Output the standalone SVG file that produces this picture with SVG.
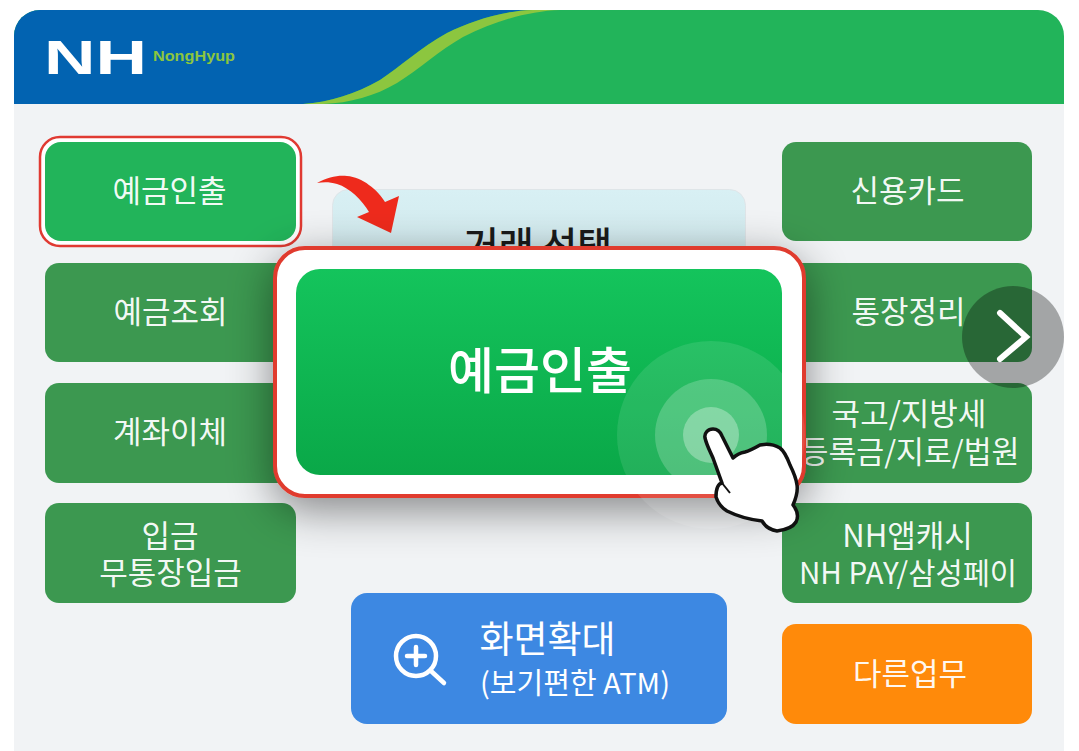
<svg xmlns="http://www.w3.org/2000/svg" width="1079" height="751" viewBox="0 0 1079 751">
<style>
.k{font-family:"Noto Sans CJK KR","Noto Sans",sans-serif;text-anchor:middle}
.b{fill:#3c9850}
.w{fill:#fff;fill-opacity:.96;font-size:31px}
</style>
<defs>
<clipPath id="panelClip"><path d="M14 36a26 26 0 0 1 26-26H1038a26 26 0 0 1 26 26V751H14Z"/></clipPath>
<linearGradient id="g1" x1="0" y1="0" x2="0" y2="1"><stop offset="0" stop-color="#14c45c"/><stop offset="1" stop-color="#0aa848"/></linearGradient>
<linearGradient id="g2" x1="0" y1="0" x2="0" y2="1"><stop offset="0" stop-color="#d8f0f4"/><stop offset="1" stop-color="#cfe6ea"/></linearGradient>
<filter id="sh" x="-25%" y="-25%" width="150%" height="160%"><feDropShadow dx="0" dy="12" stdDeviation="22" flood-color="#000" flood-opacity=".45"/></filter>
</defs>
<rect width="1079" height="751" fill="#fff"/>
<g id="panel" clip-path="url(#panelClip)">
<rect x="14" y="10" width="1050" height="741" fill="#f1f3f5"/>
<rect x="14" y="10" width="1050" height="94" fill="#22b45a"/>
<path d="M14 10H533C500 11 470 22 447 33C420 48 400 67 380 80C355 94 330 102 303 104H14Z" fill="#0263b1"/>
<path d="M303 104C330 102 355 94 380 80C400 67 420 48 447 33C470 22 500 11 533 10H560C530 11 497 20 463 37C440 50 418 70 397 83C375 96 350 103 323 104Z" fill="#8cc63f"/>
</g>
<g id="logo">
<text x="44" y="74" font-family="'Liberation Sans',sans-serif" font-weight="700" font-size="48" fill="#fff" textLength="103" lengthAdjust="spacingAndGlyphs">NH</text>
<text x="153" y="61" font-family="'Liberation Sans',sans-serif" font-weight="700" font-size="15.500" fill="#8cc63f" textLength="82" lengthAdjust="spacingAndGlyphs">NongHyup</text>
</g>
<g id="btn-withdraw">
<rect x="40" y="137" width="261" height="109" rx="20" fill="#fff" stroke="#e03a32" stroke-width="2.500"/>
<rect x="45" y="142" width="251" height="99" rx="16" fill="#22b45a"/>
<text class="k w" x="169.500" y="202">예금인출</text>
</g>
<g id="btn-inquiry"><rect class="b" x="45" y="263" width="251" height="99" rx="14"/><text class="k w" x="170.500" y="323">예금조회</text></g>
<g id="btn-transfer"><rect class="b" x="45" y="383" width="251" height="100" rx="14"/><text class="k w" x="170" y="443">계좌이체</text></g>
<g id="btn-deposit"><rect class="b" x="45" y="503" width="251" height="100" rx="14"/><text class="k w"><tspan x="170" y="547">입금</tspan><tspan x="170.500" y="584">무통장입금</tspan></text></g>
<g id="btn-card"><rect class="b" x="782" y="142" width="250" height="99" rx="14"/><text class="k w" x="907.500" y="202">신용카드</text></g>
<g id="btn-passbook"><rect class="b" x="782" y="263" width="250" height="99" rx="14"/><text class="k w" x="908.500" y="323">통장정리</text></g>
<g id="btn-tax"><rect class="b" x="782" y="383" width="250" height="100" rx="14"/><text class="k w"><tspan x="909" y="425">국고/지방세</tspan><tspan x="910" y="463" style="font-size:30.300px">등록금/지로/법원</tspan></text></g>
<g id="btn-pay"><rect class="b" x="782" y="503" width="250" height="100" rx="14"/><text class="k w"><tspan x="907.500" y="547">NH앱캐시</tspan><tspan x="908" y="584" style="font-size:29.600px">NH PAY/삼성페이</tspan></text></g>
<g id="btn-other"><rect x="782" y="624" width="250" height="100" rx="14" fill="#ff8a0a"/><text class="k w" x="910" y="685">다른업무</text></g>
<g id="btn-zoom"><rect x="351" y="593" width="376" height="131" rx="16" fill="#3d88e2"/>
<circle cx="416" cy="656" r="20" fill="none" stroke="#fff" stroke-width="4.500"/><path d="M416 647v18M407 656h18M431 671l13 12" fill="none" stroke="#fff" stroke-width="4.500" stroke-linecap="round"/>
<text class="k" x="547.500" y="653" font-size="37" fill="#fff">화면확대</text><text class="k" x="575" y="694" font-size="29" fill="#fff" textLength="190">(보기편한 ATM)</text></g>
<g id="title"><rect x="332.500" y="189.500" width="413" height="90" rx="16" fill="url(#g2)" stroke="#dfe5e8"/><text class="k" x="538" y="259" font-size="38" font-weight="500" fill="#1a1a1a">거래 선택</text></g>
<g id="connectors"><path d="M317 183C328 177 338 175 347 176C362 177 378 190 385 202L399 196L391 233L357 217L369 212C362 200 350 188 337 184C330 182 324 182 317 183Z" fill="#ee2a1c"/></g>
<g id="popup">
<rect x="275" y="248" width="529" height="248" rx="30" fill="#fff" stroke="#e03a2e" stroke-width="4" filter="url(#sh)"/>
<rect x="296" y="269" width="486" height="206" rx="24" fill="url(#g1)"/>
<text class="k" x="540" y="389" font-size="50" font-weight="500" fill="#fff">예금인출</text>
</g>
<g id="next"><circle cx="1013" cy="337" r="51" fill="#000" fill-opacity=".32"/><path d="M1000 313L1026 337L1000 359" fill="none" stroke="#fff" stroke-width="6" stroke-linecap="round"/></g>
<g id="ripple"><circle cx="711" cy="435" r="94" fill="#fff" fill-opacity=".1"/><circle cx="711" cy="435" r="56" fill="#fff" fill-opacity=".2"/><circle cx="711" cy="435" r="28" fill="#fff" fill-opacity=".3"/></g>
<g id="hand"><path d="M713 429C708 429 704 433 705 438C707 446 710 451 713 458L722 483C717 484 716 490 716 497C718 503 722 508 727 511C735 515 745 519 762 521C765 526 770 530 777 531C785 530 793 527 796 522C799 516 797 510 793 505C796 498 798 491 797 485C796 477 793 471 790 465C787 457 784 451 780 448C773 444 765 444 760 445C753 449 749 451 745 452C740 453 736 455 733 458L722 436C720 431 717 429 713 429Z" fill="#fff" stroke="#111" stroke-width="3.500" stroke-linejoin="round"/><path d="M722 483L730 493" fill="none" stroke="#111" stroke-width="2"/></g>
</svg>
